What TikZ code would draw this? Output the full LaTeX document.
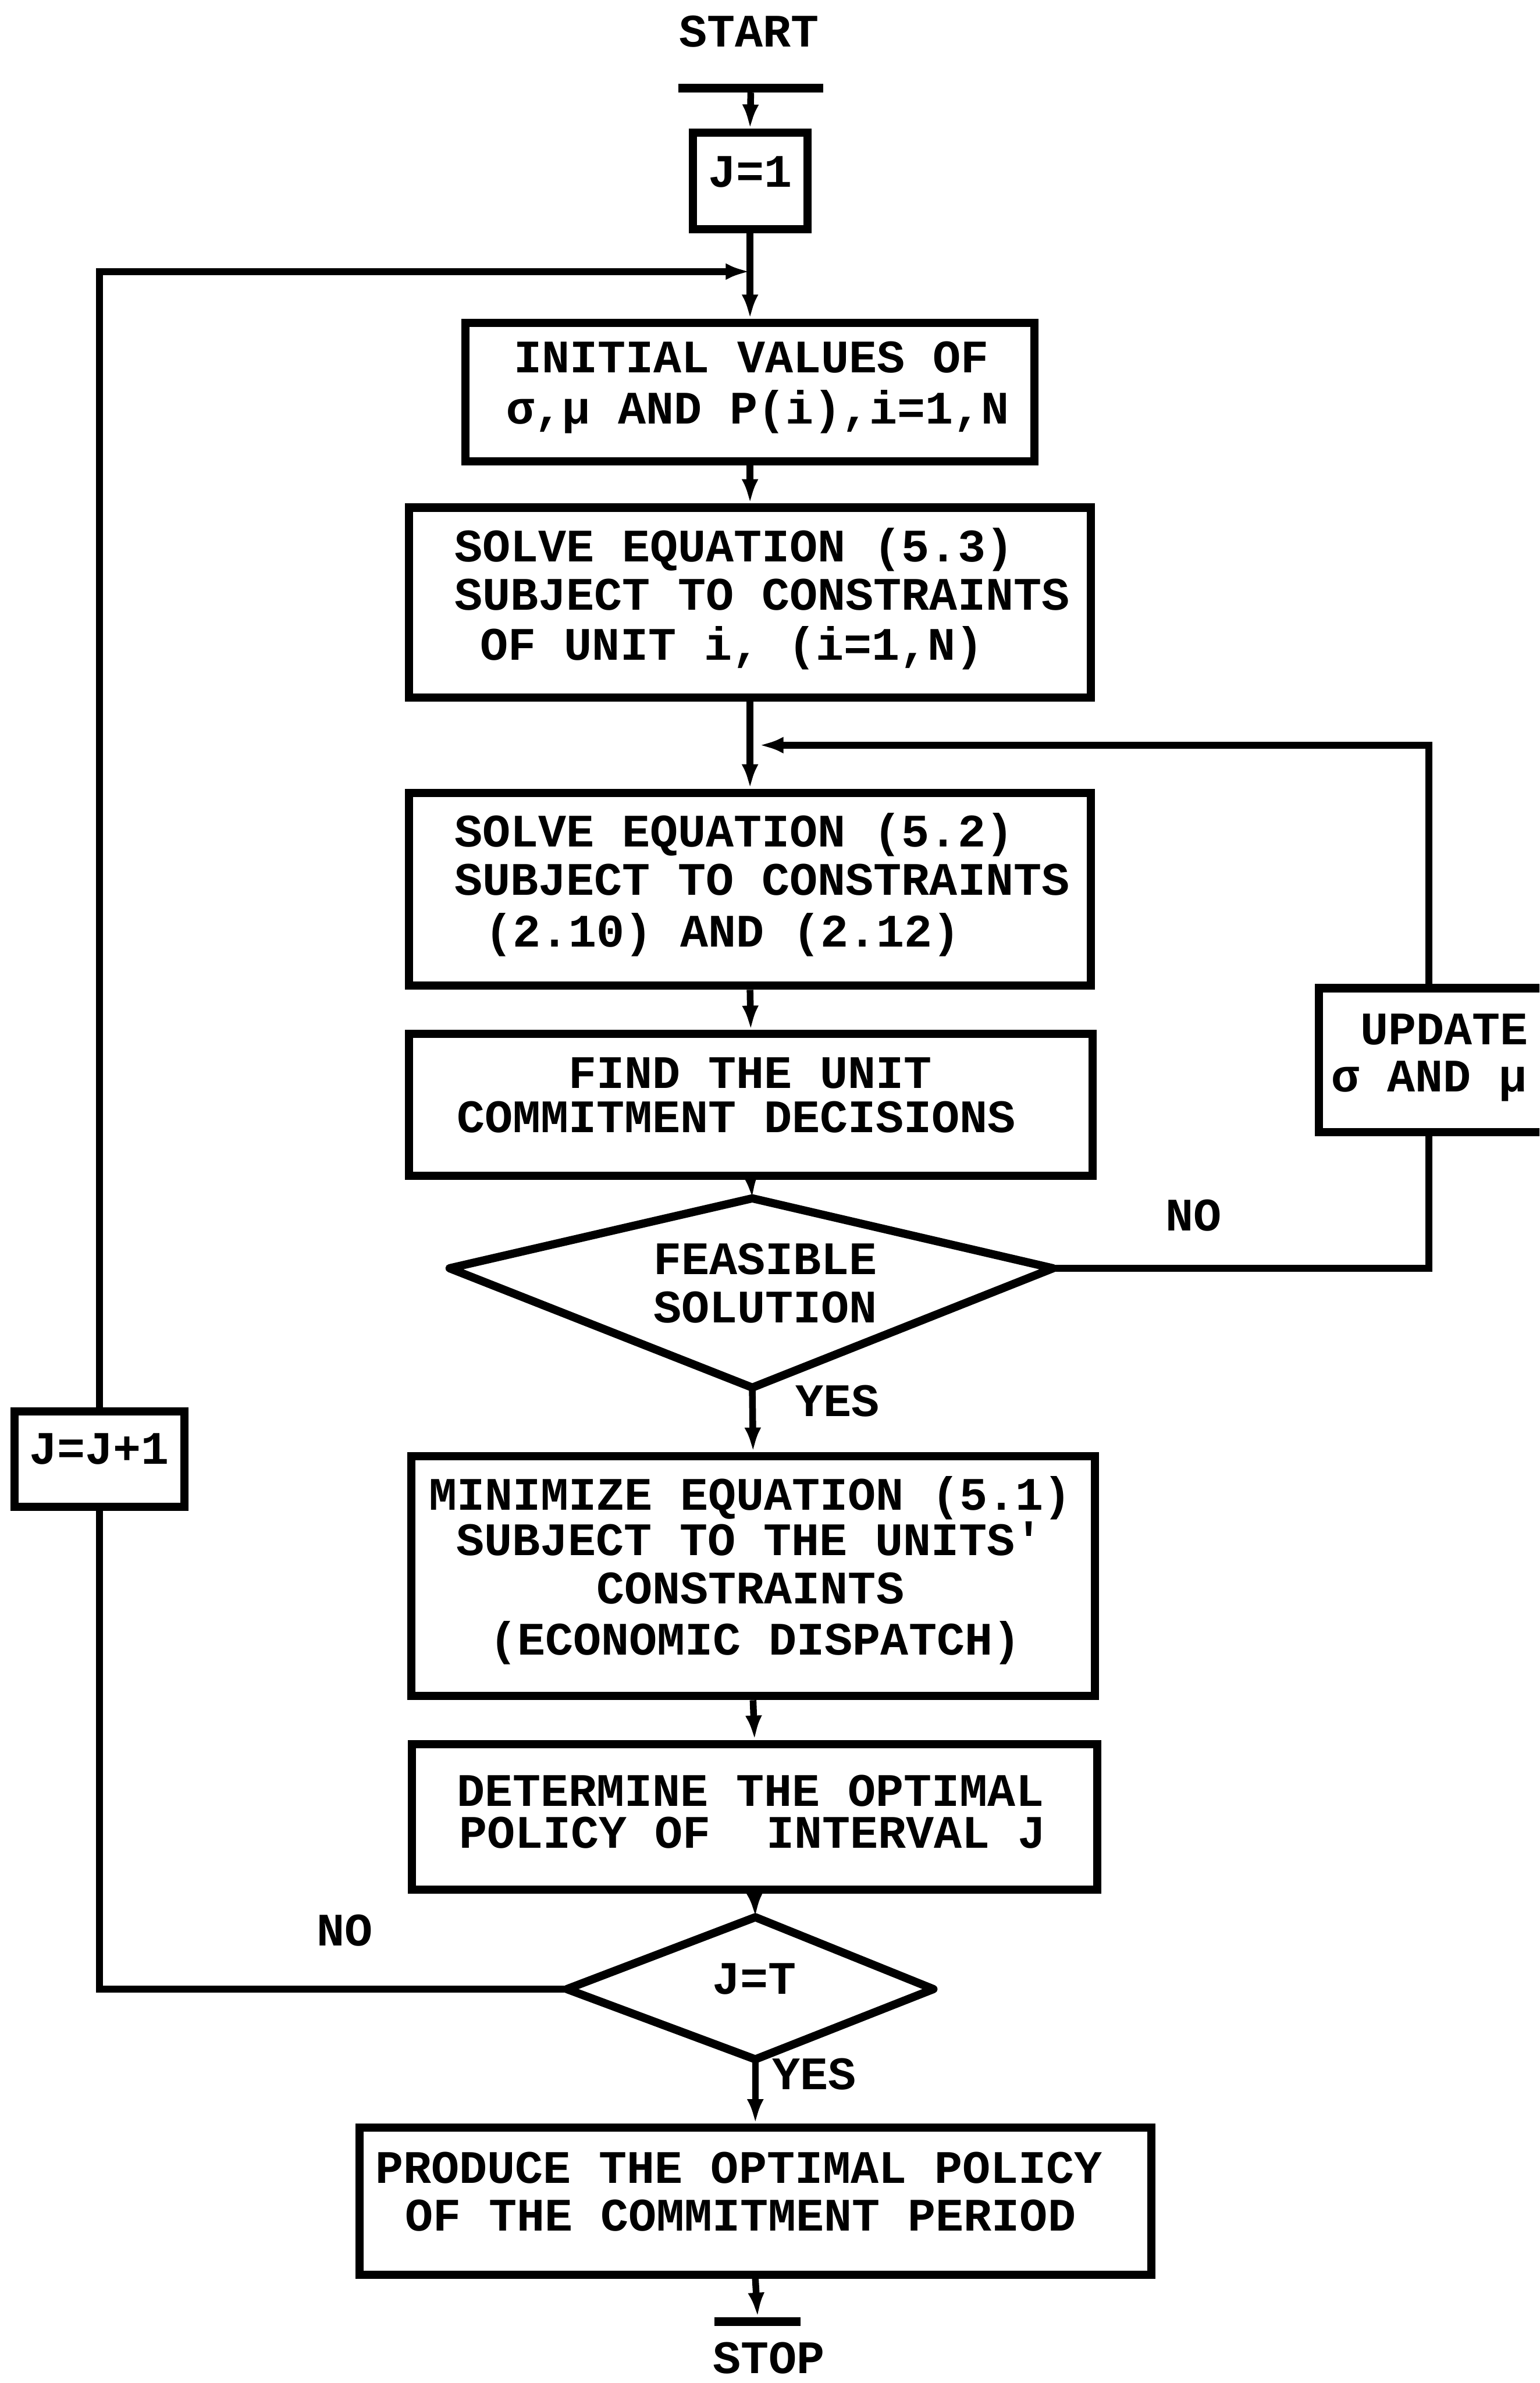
\documentclass[tikz,border=0pt]{standalone}
\usepackage{fontspec}
\setmonofont{Liberation Mono}
\usetikzlibrary{arrows.meta}
\newcommand\flowfont{\fontsize{43.6pt}{52pt}\selectfont\ttfamily\bfseries}
\tikzset{
  box/.style={draw, rectangle, line width=0.27cm, inner sep=0pt},
  link/.style={line width=0.22cm},
  arr/.style={link, -{Latex[length=0.8cm,width=0.55cm]}},
  bar/.style={fill=black, rectangle, inner sep=0pt, minimum height=0.28cm},
  ln/.style={anchor=base west, inner sep=0pt, font=\flowfont},
  lbl/.style={anchor=base, inner sep=0pt, font=\flowfont},
  decision/.style={line width=0.27cm, line join=round},
}
\begin{document}
\begin{tikzpicture}[x=0.05cm, y=-0.05cm]
\useasboundingbox (0,0) rectangle (1013,1568);
\fill[white] (0,0) rectangle (1013,1568);
\clip (0,0) rectangle (1013,1568);

% start terminal
\node[lbl] (start) at (493,30.7) {START};
\node[bar, minimum width=4.75cm] (startbar) at (494,58) {};

% J=1
\node[box, minimum width=3.77cm, minimum height=3.175cm] (j1) at (493.5,119.2) {};
\node[lbl] (j1t) at (493.5,123) {J=1};

% initial values
\node[box, minimum width=18.72cm, minimum height=4.55cm] (init) at (493.5,258) {};
\node[ln] (init1) at (338,245.3) {INITIAL VALUES OF};
\node[ln] (init2) at (333,279) {σ,μ AND P(i),i=1,N};

% equation (5.3)
\node[box, minimum width=22.43cm, minimum height=6.25cm] (s53) at (493.5,396.5) {};
\node[ln] (s531) at (299,369.5) {SOLVE EQUATION (5.3)};
\node[ln] (s532) at (299,401.4) {SUBJECT TO CONSTRAINTS};
\node[ln] (s533) at (316,434.2) {OF UNIT i, (i=1,N)};

% equation (5.2)
\node[box, minimum width=22.43cm, minimum height=6.35cm] (s52) at (493.5,585.1) {};
\node[ln] (s521) at (299,557.3) {SOLVE EQUATION (5.2)};
\node[ln] (s522) at (299,589) {SUBJECT TO CONSTRAINTS};
\node[ln] (s523) at (319,622.9) {(2.10) AND (2.12)};

% commitment decisions
\node[box, minimum width=22.485cm, minimum height=4.67cm] (find) at (494,727.1) {};
\node[ln] (find1) at (374,716.1) {FIND THE UNIT};
\node[ln] (find2) at (300.5,745) {COMMITMENT DECISIONS};

% feasibility test
\coordinate (d1t) at (495,788.5);
\coordinate (d1r) at (692.9,834.5);
\coordinate (d1b) at (495,913);
\coordinate (d1l) at (295.8,834.5);
\draw[decision] (d1t) -- (d1r) -- (d1b) -- (d1l) -- cycle;
\node[ln] (feas1) at (430,838.6) {FEASIBLE};
\node[ln] (feas2) at (430,870.5) {SOLUTION};
\node[lbl] (no1) at (785.5,810) {NO};
\node[lbl] (yes1) at (551,932) {YES};

% multiplier update (runs past the right edge)
\node[box, minimum width=8.615cm, minimum height=4.74cm] (upd) at (953.85,697.6) {};
\node[ln] (upd1) at (895,687.5) {UPDATE};
\node[ln] (upd2) at (876,718.4) {σ AND μ};

% economic dispatch
\node[box, minimum width=22.5cm, minimum height=7.9cm] (min) at (495.5,1037) {};
\node[ln] (min1) at (282,993.7) {MINIMIZE EQUATION (5.1)};
\node[ln] (min2) at (300,1023.5) {SUBJECT TO THE UNITS'};
\node[ln] (min3) at (392.5,1055.3) {CONSTRAINTS};
\node[ln] (min4) at (322,1089) {(ECONOMIC DISPATCH)};

% interval policy
\node[box, minimum width=22.55cm, minimum height=4.8cm] (det) at (496.5,1195.5) {};
\node[ln] (det1) at (300.5,1188.3) {DETERMINE THE OPTIMAL};
\node[ln] (det2) at (302,1216) {POLICY OF\ \ INTERVAL J};

% last interval test
\coordinate (d2t) at (497,1261.5);
\coordinate (d2r) at (614.2,1308.8);
\coordinate (d2b) at (497,1355);
\coordinate (d2l) at (373,1308.8);
\draw[decision] (d2t) -- (d2r) -- (d2b) -- (d2l) -- cycle;
\node[lbl] (jt) at (496.3,1312) {J=T};
\node[lbl] (no2) at (227,1280.4) {NO};
\node[ln] (yes2) at (508,1374.7) {YES};

% next interval
\node[box, minimum width=5.6cm, minimum height=3.14cm] (jj) at (65.4,960.2) {};
\node[lbl] (jjt) at (65.4,963.5) {J=J+1};

% commitment period policy
\node[box, minimum width=26.05cm, minimum height=4.835cm] (prod) at (497,1448.3) {};
\node[ln] (prod1) at (247,1436.3) {PRODUCE THE OPTIMAL POLICY};
\node[ln] (prod2) at (266.4,1468) {OF THE COMMITMENT PERIOD};

% stop terminal
\node[bar, minimum width=2.835cm] (stopbar) at (498.5,1527.5) {};
\node[lbl] (stop) at (506,1561.5) {STOP};

% junctions on the main line
\coordinate (ltop) at (493.5,178.7);
\coordinate (rtop) at (493.5,490.3);

% main flow
\draw[arr] (startbar.south) -- (j1.north);
\draw[arr] (j1.south) -- (init.north);
\draw[arr] (init.south) -- (s53.north);
\draw[arr] (s53.south) -- (s52.north);
\draw[arr] (s52.south) -- (find.north);
\draw[arr] (find.south) -- (d1t);
\draw[arr] (d1b) -- (min.north);
\draw[arr] (min.south) -- (det.north);
\draw[arr] (det.south) -- (d2t);
\draw[arr] (d2b) -- (prod.north);
\draw[arr] (prod.south) -- (stopbar.north);

% infeasible: update multipliers and repeat
\draw[link] (d1r) -| ([xshift=3.755cm]upd.south west);
\draw[arr, shorten >=0.3cm] ([xshift=3.755cm]upd.north west) |- (rtop);

% next interval loop
\draw[link] (d2l) -| (jj.south);
\draw[arr] (jj.north) |- (ltop);
\end{tikzpicture}
\end{document}
